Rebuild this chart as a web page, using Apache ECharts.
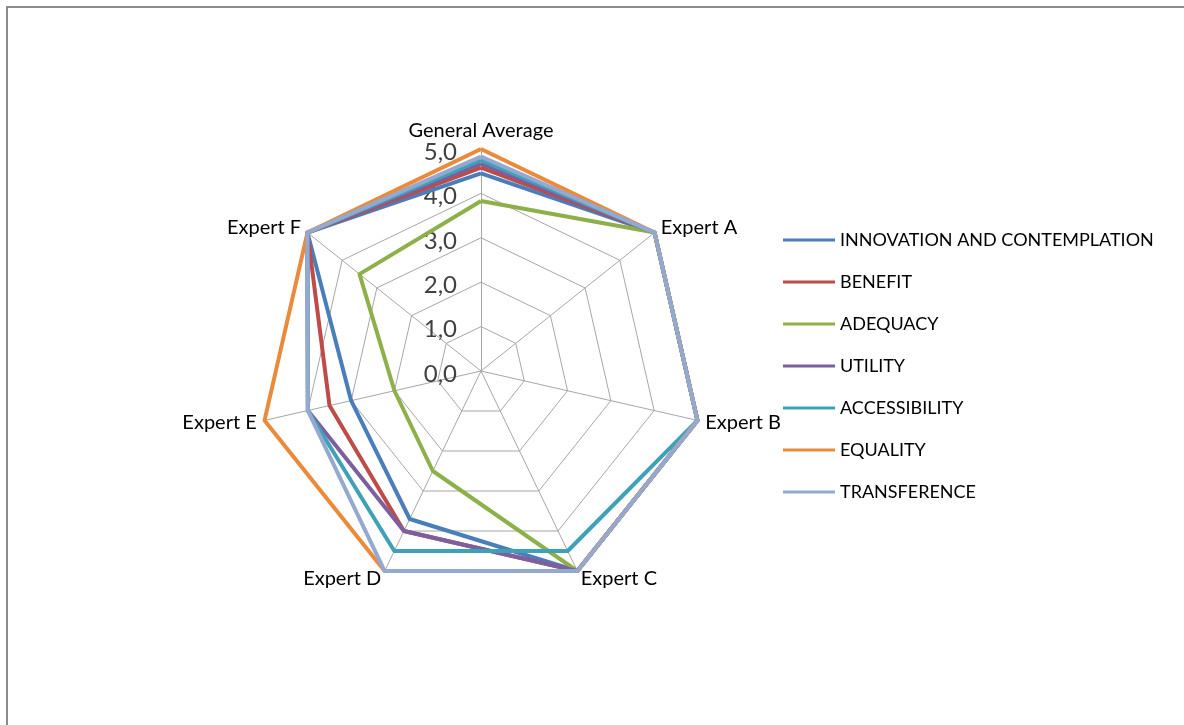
<!DOCTYPE html>
<html>
<head>
<meta charset="utf-8">
<script src="https://cdn.jsdelivr.net/npm/echarts@6/dist/echarts.min.js"></script>
<style>
  html, body { margin: 0; padding: 0; background: #fff; }
  #frame { position: absolute; left: 6px; top: 6px; width: 1300px; height: 900px; border: 2px solid #8c8c8c; box-sizing: border-box; }
  #chart { position: absolute; left: 0; top: 0; width: 1184px; height: 725px; }
</style>
</head>
<body>
<div id="frame"></div>
<div id="chart"></div>
<script>
// Axes in clockwise order starting at the top
const categories = ['General Average', 'Expert A', 'Expert B', 'Expert C', 'Expert D', 'Expert E', 'Expert F'];
const seriesNames = ['INNOVATION AND CONTEMPLATION', 'BENEFIT', 'ADEQUACY', 'UTILITY', 'ACCESSIBILITY', 'EQUALITY', 'TRANSFERENCE'];
const innovation   = [4.45, 5, 5, 5, 3.7, 3.0, 5];
const benefit      = [4.58, 5, 5, 5, 4.0, 3.5, 5];
const adequacy     = [3.83, 5, 5, 5, 2.5, 2.0, 3.5];
const utility      = [4.67, 5, 5, 5, 4.0, 4.0, 5];
const accessibility= [4.75, 5, 5, 4.5, 4.5, 4.0, 5];
const equality     = [5.0, 5, 5, 5, 5, 5, 5];
const transference = [4.83, 5, 5, 5, 5, 4.0, 5];
const tickLabels = ['0,0', '1,0', '2,0', '3,0', '4,0', '5,0'];
const axisMin = 0, axisMax = 5;

const allValues = [innovation, benefit, adequacy, utility, accessibility, equality, transference];
const colors = ['#4A7EBB', '#BE4B48', '#8DB04A', '#7D5FA0', '#3FA1B8', '#EB8A3A', '#93A9CF'];

// ECharts lays radar indicators counter-clockwise; reorder to draw clockwise
const order = [0, 6, 5, 4, 3, 2, 1];
const reorder = arr => order.map(i => arr[i]);

const indicator = reorder(categories).map((name, i) => ({
  name: name, min: axisMin, max: axisMax,
  axisLabel: i === 0 ? {
    show: true, margin: 24,
    formatter: v => '{t|' + tickLabels[Math.round(v)] + '}',
    rich: { t: { fontFamily: 'Lato', fontSize: 24, color: '#404040', padding: [6, 0, 0, 0] } }
  } : { show: false }
}));

const chart = echarts.init(document.getElementById('chart'), null, { renderer: 'canvas' });
chart.setOption({
  backgroundColor: 'transparent',
  animation: false,
  color: colors,
  legend: {
    orient: 'vertical', left: 783, top: 229, padding: 0,
    itemWidth: 52, itemHeight: 3, itemGap: 20,
    icon: 'rect',
    textStyle: { fontFamily: 'Lato', fontSize: 18, color: '#000', lineHeight: 22 },
    data: seriesNames
  },
  radar: {
    center: [481, 371], radius: 222,
    startAngle: 90, splitNumber: 5, shape: 'polygon',
    indicator: indicator,
    axisName: { color: '#000', fontFamily: 'Lato', fontSize: 20 },
    nameGap: 8,
    axisLine: { lineStyle: { color: '#a6a6a6', width: 1 } },
    splitLine: { lineStyle: { color: '#a6a6a6', width: 1 } },
    splitArea: { show: false },
    axisTick: { show: false },
    axisLabel: { show: false }
  },
  series: [{
    type: 'radar',
    symbol: 'none',
    data: seriesNames.map((n, i) => ({
      name: n, value: reorder(allValues[i]),
      lineStyle: { width: 4, color: colors[i] },
      itemStyle: { color: colors[i] }
    }))
  }]
});
</script>
</body>
</html>
